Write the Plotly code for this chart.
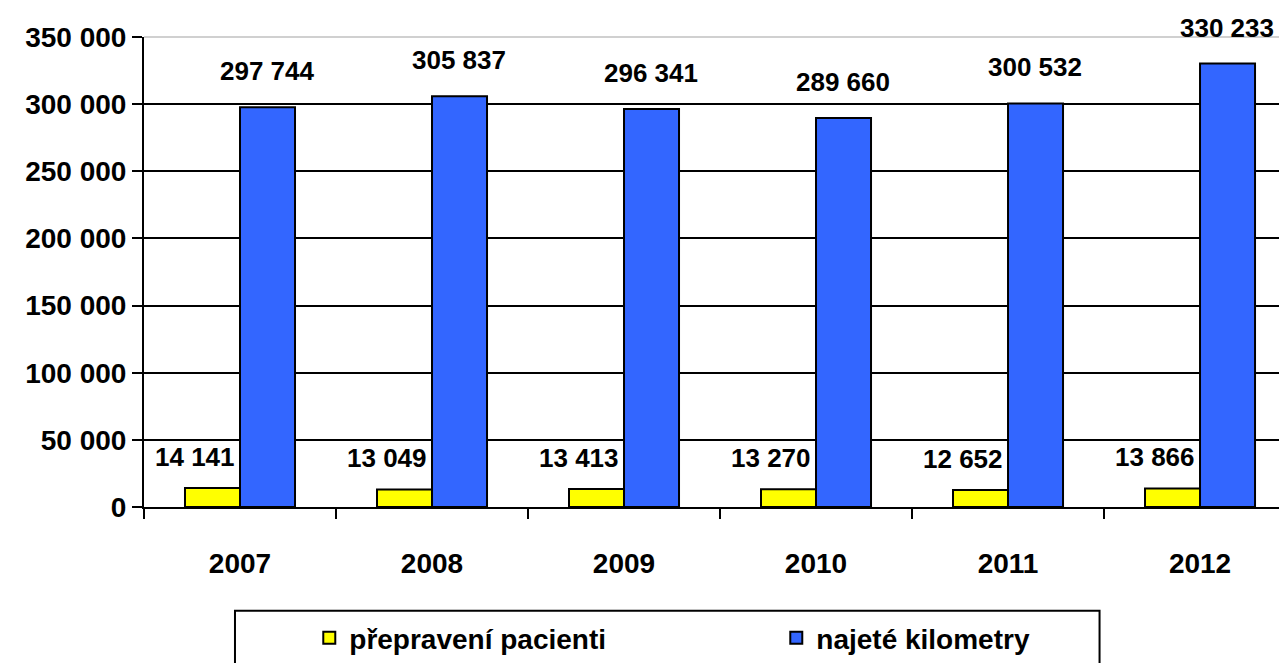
import plotly.graph_objects as go

# --- data ---
roky = ['2007', '2008', '2009', '2010', '2011', '2012']
pacienti = [14141, 13049, 13413, 13270, 12652, 13866]
kilometry = [297744, 305837, 296341, 289660, 300532, 330233]


def fmt(v):
    return f"{v:,}".replace(",", " ")


FONT = 'Liberation Sans, Arial, sans-serif'

fig = go.Figure(data=[
    go.Bar(x=roky, y=pacienti, name='přepravení pacienti',
           marker=dict(color='#FFFF00', line=dict(color='black', width=2))),
    go.Bar(x=roky, y=kilometry, name='najeté kilometry',
           marker=dict(color='#3366FF', line=dict(color='black', width=2))),
])

# popisky hodnot (x = index kategorie)
for i, (p, k) in enumerate(zip(pacienti, kilometry)):
    fig.add_annotation(x=i, y=p, text='<b>%s</b>' % fmt(p), showarrow=False,
                       xshift=-45, yshift=31, yanchor='middle',
                       font=dict(size=26, color='black', family=FONT))
    fig.add_annotation(x=i, y=k, text='<b>%s</b>' % fmt(k), showarrow=False,
                       xshift=27, yshift=36, yanchor='middle',
                       font=dict(size=26, color='black', family=FONT))

# stránka má okraj 8 px, proto je obrázek o 8 px menší
fig.update_layout(
    width=1279, height=655,
    margin=dict(l=136, r=0, t=29, b=155),
    plot_bgcolor='white',
    paper_bgcolor='white',
    barmode='group',
    bargap=0.427,
    bargroupgap=0,
    separators=', ',
    font=dict(family=FONT, size=28, color='black'),
    xaxis=dict(
        type='category',
        range=[-0.5, 5.453],
        showline=True, linecolor='black', linewidth=2,
        tickson='boundaries', ticks='outside', ticklen=10, tickwidth=2, tickcolor='black',
        ticklabelstandoff=30,
        tickfont=dict(size=28, family=FONT, weight='bold'),
        showgrid=False,
    ),
    yaxis=dict(
        range=[0, 350000],
        tickvals=[0, 50000, 100000, 150000, 200000, 250000, 300000, 350000],
        tickformat=',d',
        showline=True, linecolor='black', linewidth=2,
        ticks='outside', ticklen=10, tickwidth=2, tickcolor='black',
        tickfont=dict(size=28, family=FONT, weight='bold'),
        showgrid=True, gridcolor='black', gridwidth=2,
        zeroline=False,
    ),
    legend=dict(
        orientation='h',
        x=0.1446, xanchor='left',
        y=-0.28, yanchor='middle',
        entrywidth=422,
        font=dict(size=28, family=FONT, weight='bold'),
        bgcolor='rgba(0,0,0,0)',
    ),
    shapes=[
        # horní okraj grafu
        dict(type='line', xref='paper', yref='paper', x0=0, x1=1, y0=1, y1=1,
             line=dict(color='#D0D0D0', width=2), layer='above'),
        # rámeček legendy
        dict(type='rect', xref='paper', yref='paper', x0=0.0796, x1=0.836,
             y0=-0.36, y1=-0.221, line=dict(color='black', width=2)),
    ],
)

fig.write_html("out.html")
